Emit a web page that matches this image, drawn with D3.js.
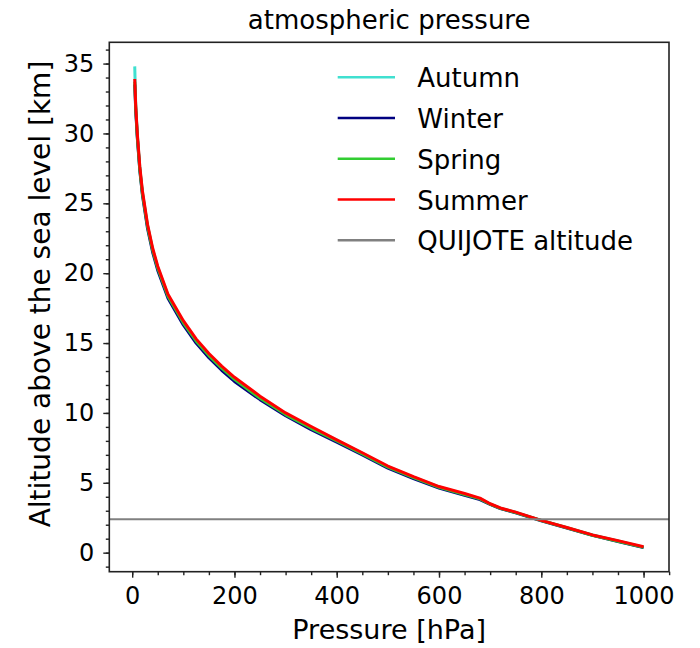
<!DOCTYPE html>
<html>
<head>
<meta charset="utf-8">
<script src="https://cdn.jsdelivr.net/npm/d3@7"></script>
<style>
  body { margin: 0; background: #fff; }
  text { font-family: "DejaVu Sans", sans-serif; fill: #000; }
</style>
</head>
<body>
<div id="chart"></div>
<script>
// pressure levels [hPa] shared by every season
const pressureLevels = [5, 7, 10, 15, 20, 30, 40, 50, 70, 100, 125, 150, 175, 200, 250, 300,
  350, 400, 450, 500, 550, 600, 650, 680, 700, 720, 750, 800, 850, 900, 950, 1000];

// altitude [km] for each season
const autumnAlt = [34.8, 31.85, 29.9, 27.5, 25.8, 23.4, 21.7, 20.4, 18.4, 16.5, 15.2, 14.15, 13.25, 12.45, 11.1, 9.92,
  8.95, 8.05, 7.1, 6.15, 5.4, 4.7, 4.18, 3.87, 3.48, 3.18, 2.88, 2.31, 1.79, 1.26, 0.83, 0.39];
const winterAlt = [33.5, 31.6, 29.7, 27.3, 25.6, 23.2, 21.5, 20.2, 18.2, 16.3, 15.0, 13.95, 13.05, 12.25, 10.95, 9.8,
  8.8, 7.9, 7.0, 6.05, 5.3, 4.62, 4.1, 3.8, 3.45, 3.15, 2.85, 2.28, 1.76, 1.24, 0.8, 0.36];
const springAlt = [33.7, 31.8, 29.8, 27.4, 25.7, 23.35, 21.65, 20.35, 18.35, 16.45, 15.15, 14.1, 13.2, 12.4, 11.05, 9.88,
  8.9, 8.0, 7.07, 6.12, 5.37, 4.67, 4.15, 3.85, 3.47, 3.17, 2.87, 2.3, 1.78, 1.25, 0.82, 0.38];
const summerAlt = [33.9, 31.9, 30.0, 27.6, 25.9, 23.5, 21.8, 20.5, 18.5, 16.6, 15.3, 14.25, 13.35, 12.55, 11.2, 10.0,
  9.03, 8.07, 7.15, 6.2, 5.44, 4.73, 4.23, 3.9, 3.5, 3.2, 2.9, 2.31, 1.8, 1.27, 0.86, 0.42];

const seasonNames = ["Autumn", "Winter", "Spring", "Summer"];
const seasonColors = ["#40e0d0", "#000080", "#32cd32", "#ff0000"];
const quijoteAltitude = 2.4;

const xTicks = [0, 200, 400, 600, 800, 1000];
const yTicks = [0, 5, 10, 15, 20, 25, 30, 35];

var margin = {top: 42.3, right: 31, bottom: 76.3, left: 109.3},
  width = 700 - margin.left - margin.right,
  height = 648 - margin.top - margin.bottom;

var svg = d3.select("#chart")
  .append("svg")
  .attr("width", 700)
  .attr("height", 648);

var g = svg.append("g")
  .attr("transform", `translate(${margin.left},${margin.top})`);

var series = [autumnAlt, winterAlt, springAlt, summerAlt].map((alt, i) => ({
  name: seasonNames[i],
  color: seasonColors[i],
  values: pressureLevels.map((p, j) => ({p: p, h: alt[j]}))
}));

// matplotlib style 5% padding around the data
var allH = [].concat(autumnAlt, winterAlt, springAlt, summerAlt);
var px = d3.extent(pressureLevels), ph = d3.extent(allH);
var padX = (px[1] - px[0]) * 0.05, padY = (ph[1] - ph[0]) * 0.05;

var x = d3.scaleLinear().domain([px[0] - padX, px[1] + padX]).range([0, width]);
var y = d3.scaleLinear().domain([ph[0] - padY, ph[1] + padY]).range([height, 0]);

// minor ticks
g.append("g")
  .attr("transform", `translate(0,${height})`)
  .call(d3.axisBottom(x).tickValues(d3.range(0, 1051, 50)).tickSize(3.5).tickFormat(""))
  .call(a => a.select(".domain").remove());
g.append("g")
  .call(d3.axisLeft(y).tickValues(d3.range(-1, 37, 1)).tickSize(3.5).tickFormat(""))
  .call(a => a.select(".domain").remove());

// major ticks
var xAxis = g.append("g")
  .attr("transform", `translate(0,${height})`)
  .call(d3.axisBottom(x).tickValues(xTicks).tickSize(6).tickPadding(9).tickFormat(d3.format("d")))
  .call(a => a.select(".domain").remove());
xAxis.selectAll("text").style("font-size", "24px");

var yAxis = g.append("g")
  .call(d3.axisLeft(y).tickValues(yTicks).tickSize(6).tickPadding(9).tickFormat(d3.format("d")))
  .call(a => a.select(".domain").remove());
yAxis.selectAll("text").style("font-size", "24px");

g.selectAll(".tick line").attr("stroke", "#222").attr("stroke-width", 1.4);

// season curves
var line = d3.line().x(d => x(d.p)).y(d => y(d.h));
g.selectAll(".season")
  .data(series)
  .join("path")
  .attr("class", "season")
  .attr("fill", "none")
  .attr("stroke", d => d.color)
  .attr("stroke-width", 3)
  .attr("stroke-linejoin", "round")
  .attr("d", d => line(d.values));

// QUIJOTE altitude
g.append("line")
  .attr("x1", 0).attr("x2", width)
  .attr("y1", y(quijoteAltitude)).attr("y2", y(quijoteAltitude))
  .attr("stroke", "#808080")
  .attr("stroke-width", 2);

// frame
g.append("rect")
  .attr("width", width).attr("height", height)
  .attr("fill", "none")
  .attr("stroke", "#222")
  .attr("stroke-width", 1.6);

// legend
var legendItems = seasonNames.map((n, i) => ({name: n, color: seasonColors[i]}))
  .concat([{name: "QUIJOTE altitude", color: "#808080"}]);
var legend = svg.append("g").attr("transform", "translate(337.7,77.3)");
legend.selectAll("line")
  .data(legendItems)
  .join("line")
  .attr("x1", 0).attr("x2", 57.3)
  .attr("y1", (d, i) => i * 40.75).attr("y2", (d, i) => i * 40.75)
  .attr("stroke", d => d.color)
  .attr("stroke-width", 2.5);
legend.selectAll("text")
  .data(legendItems)
  .join("text")
  .attr("x", 79.6)
  .attr("y", (d, i) => i * 40.75 + 10)
  .style("font-size", "26px")
  .text(d => d.name);

// titles
svg.append("text")
  .attr("x", margin.left + width / 2)
  .attr("y", 29)
  .attr("text-anchor", "middle")
  .style("font-size", "26px")
  .text("atmospheric pressure");

svg.append("text")
  .attr("x", margin.left + width / 2)
  .attr("y", 639)
  .attr("text-anchor", "middle")
  .style("font-size", "27px")
  .text("Pressure [hPa]");

svg.append("text")
  .attr("transform", "translate(50,294)rotate(-90)")
  .attr("text-anchor", "middle")
  .style("font-size", "28px")
  .text("Altitude above the sea level [km]");
</script>
</body>
</html>
